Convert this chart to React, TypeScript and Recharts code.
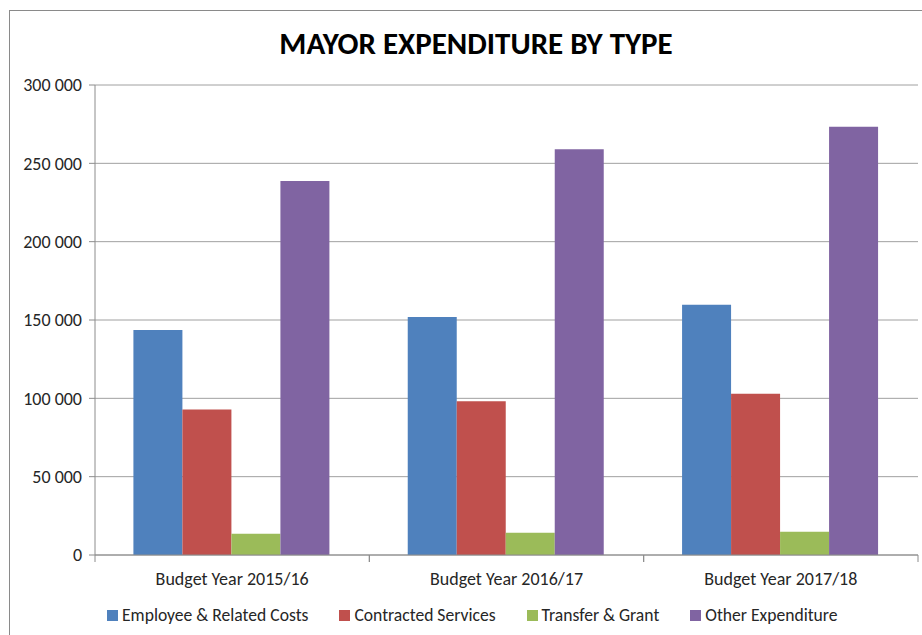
import React from 'react';
import { BarChart, Bar, XAxis, YAxis, CartesianGrid } from 'recharts';

const categories = ['Budget Year 2015/16', 'Budget Year 2016/17', 'Budget Year 2017/18'];
const employeeCosts = [143600, 151900, 159700];
const contractedServices = [92800, 98100, 103000];
const transferGrant = [13500, 14200, 14800];
const otherExpenditure = [238800, 259000, 273400];
const yTicks = [0, 50000, 100000, 150000, 200000, 250000, 300000];

const series = [
  { key: 'employee', name: 'Employee & Related Costs', color: '#4f81bd' },
  { key: 'contracted', name: 'Contracted Services', color: '#c0504d' },
  { key: 'transfer', name: 'Transfer & Grant', color: '#9bbb59' },
  { key: 'other', name: 'Other Expenditure', color: '#8064a2' },
];

const data = categories.map((name, i) => ({
  name,
  employee: employeeCosts[i],
  contracted: contractedServices[i],
  transfer: transferGrant[i],
  other: otherExpenditure[i],
}));

const FONT = 'Carlito, Calibri, Lato, sans-serif';
const W = 922;
const H = 635;
const margin = { top: 85, right: 4, left: 0, bottom: 50 };
const yAxisWidth = 95;
const bandWidth = (W - margin.left - margin.right - yAxisWidth) / categories.length;

const fmt = (v: number) => String(v).replace(/\B(?=(\d{3})+(?!\d))/g, ' ');

function CategoryTick(props: any) {
  const { x, y, payload } = props;
  const half = bandWidth / 2;
  return (
    <g>
      <line x1={x - half} x2={x - half} y1={y} y2={y + 7} stroke="#8c8c8c" />
      <line x1={x + half} x2={x + half} y1={y} y2={y + 7} stroke="#8c8c8c" />
      <text x={x} y={y + 30} textAnchor="middle" fontFamily={FONT} fontSize={18} fill="#262626">
        {payload.value}
      </text>
    </g>
  );
}

export default function App() {
  return (
    <div style={{ position: 'absolute', left: 0, top: 0, width: W, height: H, background: '#fff', overflow: 'hidden' }}>
      <div
        style={{
          position: 'absolute',
          left: 9,
          top: 10,
          width: W,
          height: H,
          borderLeft: '1.5px solid #8a8a8a',
          borderTop: '1.5px solid #8a8a8a',
        }}
      />
      <div
        style={{
          position: 'absolute',
          left: 0,
          width: W,
          top: 24,
          paddingLeft: 30,
          boxSizing: 'border-box',
          textAlign: 'center',
          fontFamily: FONT,
          fontWeight: 'bold',
          fontSize: 31,
          color: '#000',
        }}
      >
        MAYOR EXPENDITURE BY TYPE
      </div>
      <BarChart width={W} height={H} data={data} margin={margin} barCategoryGap="14%" barGap={0}>
        <CartesianGrid vertical={false} stroke="#a0a0a0" />
        <XAxis
          dataKey="name"
          height={30}
          axisLine={{ stroke: '#8c8c8c' }}
          tickLine={false}
          tickSize={0}
          tickMargin={0}
          tick={<CategoryTick />}
          interval={0}
        />
        <YAxis
          width={yAxisWidth}
          domain={[0, 300000]}
          ticks={yTicks}
          tickFormatter={fmt}
          axisLine={{ stroke: '#8c8c8c' }}
          tickLine={{ stroke: '#8c8c8c' }}
          tickSize={6}
          tickMargin={7}
          tick={{ fontFamily: FONT, fontSize: 18, fill: '#262626' }}
        />
        {series.map((s) => (
          <Bar key={s.key} dataKey={s.key} name={s.name} fill={s.color} isAnimationActive={false} />
        ))}
      </BarChart>
      <div
        style={{
          position: 'absolute',
          left: 107,
          top: 604,
          display: 'flex',
          fontFamily: FONT,
          fontSize: 17.6,
          color: '#262626',
          lineHeight: '22px',
        }}
      >
        {series.map((s) => (
          <div key={s.key} style={{ display: 'flex', alignItems: 'center', marginRight: 31 }}>
            <span style={{ width: 11, height: 11, background: s.color, marginRight: 4, display: 'inline-block' }} />
            <span>{s.name}</span>
          </div>
        ))}
      </div>
    </div>
  );
}
